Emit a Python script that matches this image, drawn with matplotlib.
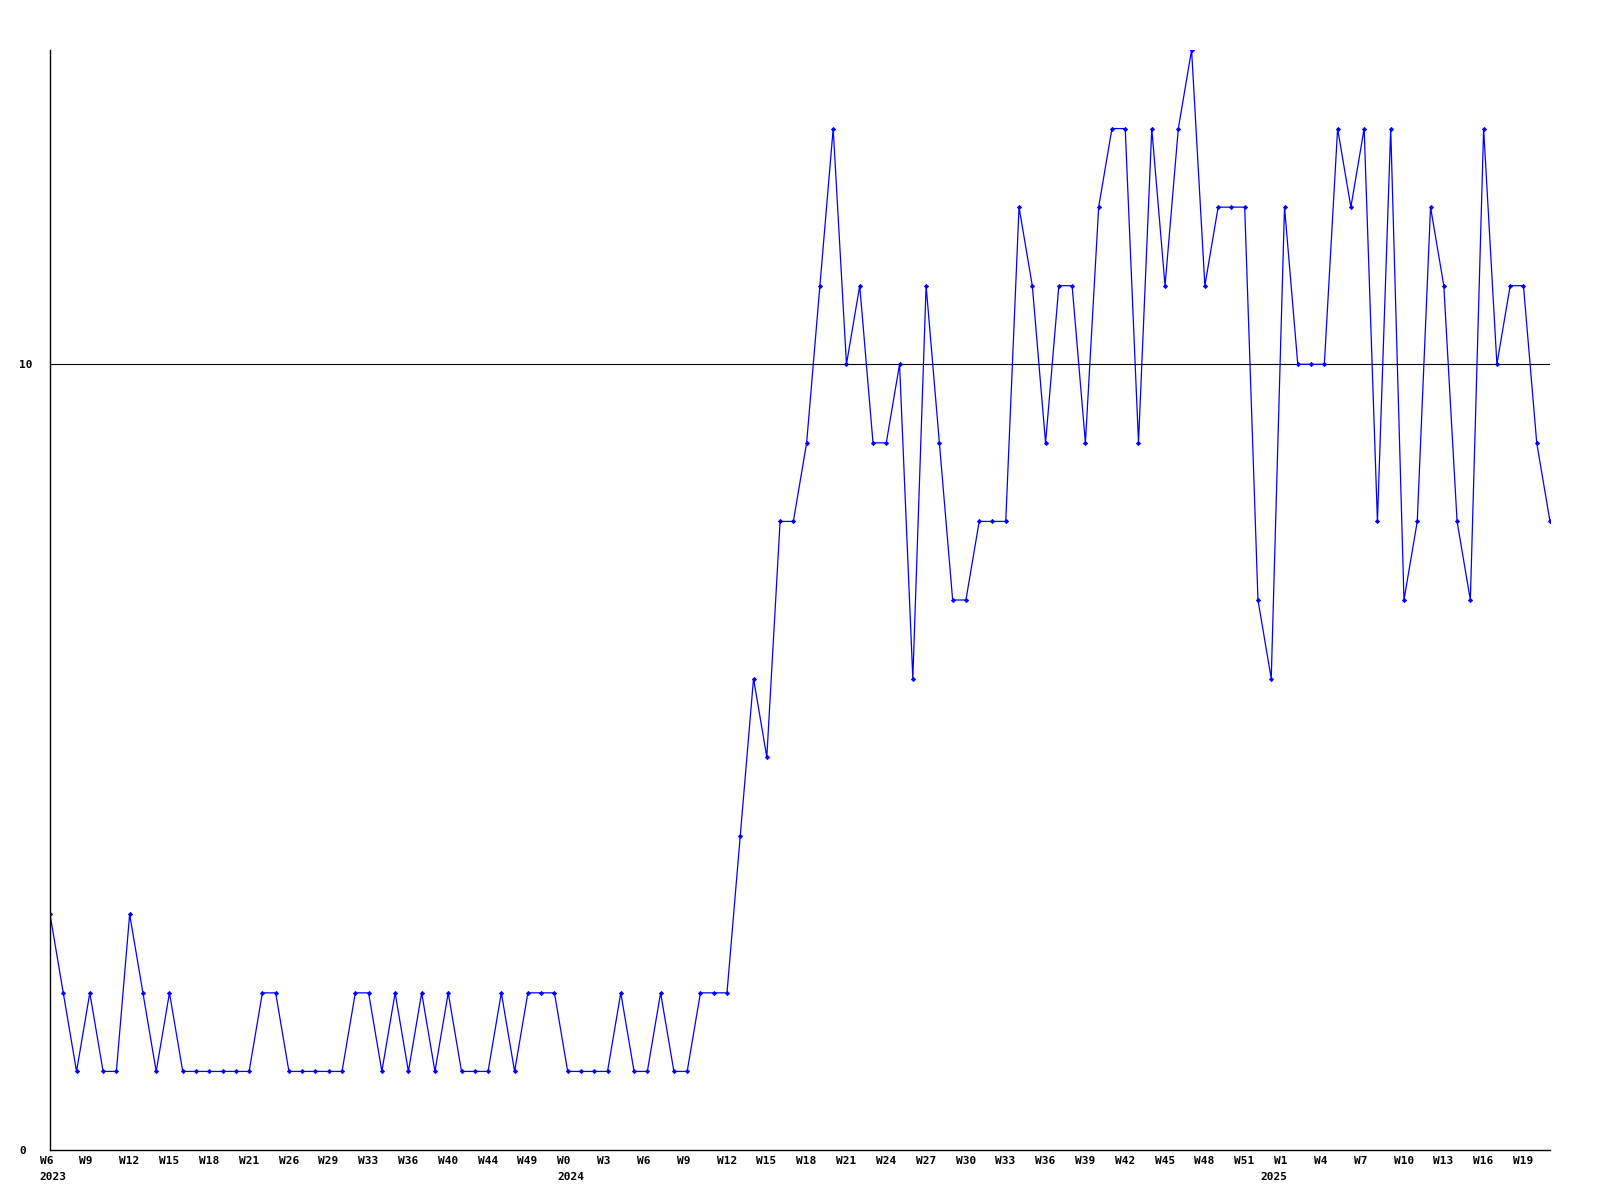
import matplotlib
matplotlib.use("Agg")
import matplotlib.pyplot as plt

# weekly counts, first point is W6 2023
values = [
    3, 2, 1, 2, 1, 1, 3, 2, 1, 2, 1, 1, 1, 1, 1, 1, 2, 2, 1, 1,
    1, 1, 1, 2, 2, 1, 2, 1, 2, 1, 2, 1, 1, 1, 2, 1, 2, 2, 2, 1,
    1, 1, 1, 2, 1, 1, 2, 1, 1, 2, 2, 2, 4, 6, 5, 8, 8, 9, 11, 13,
    10, 11, 9, 9, 10, 6, 11, 9, 7, 7, 8, 8, 8, 12, 11, 9, 11, 11, 9, 12,
    13, 13, 9, 13, 11, 13, 14, 11, 12, 12, 12, 7, 6, 12, 10, 10, 10, 13, 12, 13,
    8, 13, 7, 8, 12, 11, 8, 7, 13, 10, 11, 11, 9, 8,
]

# a label every 3rd week
week_labels = [
    "W6", "W9", "W12", "W15", "W18", "W21", "W26", "W29", "W33", "W36",
    "W40", "W44", "W49", "W0", "W3", "W6", "W9", "W12", "W15", "W18",
    "W21", "W24", "W27", "W30", "W33", "W36", "W39", "W42", "W45", "W48",
    "W51", "W1", "W4", "W7", "W10", "W13", "W16", "W19",
]

years = ["2023", "2024", "2025"]
year_starts = [0, 39, 92]

FONT = dict(family="DejaVu Sans Mono", fontweight="bold", fontsize=8)

fig = plt.figure(figsize=(16, 12), dpi=100)
ax = fig.add_axes([0.03125, 0.04167, 0.9375, 0.91667])

x = list(range(len(values)))
ax.plot(x, values, color="#0000ff", lw=0.9, marker="D", markersize=2.2,
        markeredgewidth=0.5, clip_on=True)
ax.axhline(10, color="black", lw=0.8, zorder=0)

ax.set_xlim(0, len(values) - 1)
ax.set_ylim(0, 14)

for s in ["top", "right"]:
    ax.spines[s].set_visible(False)
for s in ["left", "bottom"]:
    ax.spines[s].set_linewidth(1.0)
    ax.spines[s].set_color("black")

ax.set_xticks([])
ax.set_yticks([0, 10])
ax.set_yticklabels(["0", "10"], **FONT)
ax.tick_params(axis="y", length=0, pad=22)
for lab in ax.get_yticklabels():
    lab.set_horizontalalignment("left")

for i, lab in enumerate(week_labels):
    ax.annotate(lab, xy=(i * 3, 0), xycoords=("data", "axes fraction"),
                xytext=(-7.5, -8), textcoords="offset points",
                ha="left", va="center", annotation_clip=False, **FONT)

for yr, start in zip(years, year_starts):
    ax.annotate(yr, xy=(start, 0), xycoords=("data", "axes fraction"),
                xytext=(-7.5, -19.5), textcoords="offset points",
                ha="left", va="center", annotation_clip=False, **FONT)

fig.savefig("out.png", dpi=100)
